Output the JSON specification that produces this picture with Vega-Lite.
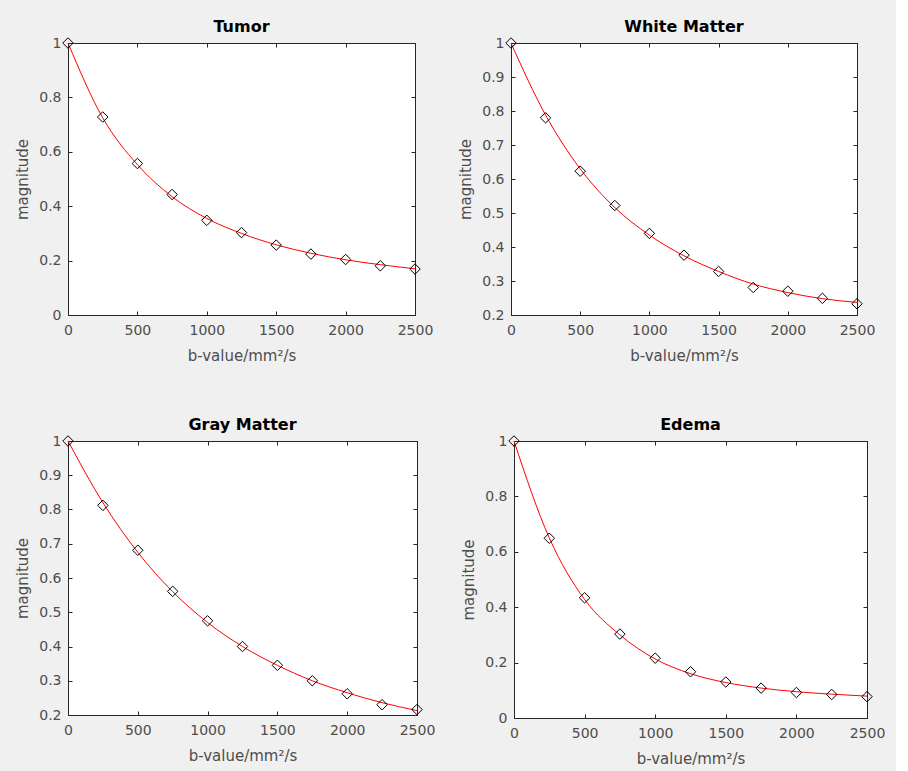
{
  "$schema": "https://vega.github.io/schema/vega-lite/v6.json",
  "background": "#f0f0f0",
  "padding": {"left": 15, "top": 18, "right": 10, "bottom": 5},
  "spacing": 52,
  "data": {"values": [
    {"tissue":"Tumor","b":0,"signal":1.0,"fit":1.0},
    {"tissue":"Tumor","b":250,"signal":0.728,"fit":0.725},
    {"tissue":"Tumor","b":500,"signal":0.557,"fit":0.553},
    {"tissue":"Tumor","b":750,"signal":0.443,"fit":0.435},
    {"tissue":"Tumor","b":1000,"signal":0.348,"fit":0.355},
    {"tissue":"Tumor","b":1250,"signal":0.303,"fit":0.300},
    {"tissue":"Tumor","b":1500,"signal":0.257,"fit":0.258},
    {"tissue":"Tumor","b":1750,"signal":0.224,"fit":0.227},
    {"tissue":"Tumor","b":2000,"signal":0.204,"fit":0.203},
    {"tissue":"Tumor","b":2250,"signal":0.181,"fit":0.185},
    {"tissue":"Tumor","b":2500,"signal":0.169,"fit":0.170},
    {"tissue":"White Matter","b":0,"signal":1.0,"fit":1.0},
    {"tissue":"White Matter","b":250,"signal":0.780,"fit":0.788},
    {"tissue":"White Matter","b":500,"signal":0.623,"fit":0.630},
    {"tissue":"White Matter","b":750,"signal":0.522,"fit":0.516},
    {"tissue":"White Matter","b":1000,"signal":0.440,"fit":0.435},
    {"tissue":"White Matter","b":1250,"signal":0.376,"fit":0.374},
    {"tissue":"White Matter","b":1500,"signal":0.328,"fit":0.328},
    {"tissue":"White Matter","b":1750,"signal":0.281,"fit":0.291},
    {"tissue":"White Matter","b":2000,"signal":0.270,"fit":0.266},
    {"tissue":"White Matter","b":2250,"signal":0.249,"fit":0.248},
    {"tissue":"White Matter","b":2500,"signal":0.233,"fit":0.237},
    {"tissue":"Gray Matter","b":0,"signal":1.0,"fit":1.0},
    {"tissue":"Gray Matter","b":250,"signal":0.812,"fit":0.820},
    {"tissue":"Gray Matter","b":500,"signal":0.681,"fit":0.675},
    {"tissue":"Gray Matter","b":750,"signal":0.561,"fit":0.560},
    {"tissue":"Gray Matter","b":1000,"signal":0.475,"fit":0.470},
    {"tissue":"Gray Matter","b":1250,"signal":0.400,"fit":0.400},
    {"tissue":"Gray Matter","b":1500,"signal":0.345,"fit":0.345},
    {"tissue":"Gray Matter","b":1750,"signal":0.300,"fit":0.300},
    {"tissue":"Gray Matter","b":2000,"signal":0.262,"fit":0.265},
    {"tissue":"Gray Matter","b":2250,"signal":0.230,"fit":0.236},
    {"tissue":"Gray Matter","b":2500,"signal":0.216,"fit":0.213},
    {"tissue":"Edema","b":0,"signal":1.0,"fit":1.0},
    {"tissue":"Edema","b":250,"signal":0.649,"fit":0.650},
    {"tissue":"Edema","b":500,"signal":0.434,"fit":0.428},
    {"tissue":"Edema","b":750,"signal":0.303,"fit":0.300},
    {"tissue":"Edema","b":1000,"signal":0.216,"fit":0.213},
    {"tissue":"Edema","b":1250,"signal":0.167,"fit":0.160},
    {"tissue":"Edema","b":1500,"signal":0.130,"fit":0.128},
    {"tissue":"Edema","b":1750,"signal":0.108,"fit":0.108},
    {"tissue":"Edema","b":2000,"signal":0.092,"fit":0.095},
    {"tissue":"Edema","b":2250,"signal":0.085,"fit":0.086},
    {"tissue":"Edema","b":2500,"signal":0.077,"fit":0.079}
  ]},
  "vconcat": [
    {"spacing": 24, "hconcat": [
      {
        "title": "Tumor",
        "width": 347, "height": 272,
        "transform": [{"filter": "datum.tissue === 'Tumor'"}],
        "resolve": {"axis": {"x": "independent", "y": "independent"}},
        "layer": [
          {"mark": {"type": "line", "color": "#ff0000", "strokeWidth": 1, "interpolate": "monotone"},
           "encoding": {
             "x": {"field": "b", "type": "quantitative", "scale": {"domain": [0, 2500], "nice": false}, "axis": {"title": "b-value/mm²/s", "values": [0,500,1000,1500,2000,2500], "format": "d"}},
             "y": {"field": "fit", "type": "quantitative", "scale": {"domain": [0, 1], "nice": false}, "axis": {"title": "magnitude", "values": [0,0.2,0.4,0.6,0.8,1], "format": "~g"}}
           }},
          {"mark": {"type": "point", "shape": "diamond", "filled": false, "stroke": "#000000", "strokeWidth": 1, "size": 110, "opacity": 1},
           "encoding": {
             "x": {"field": "b", "type": "quantitative", "axis": {"orient": "top", "title": null, "labels": false, "values": [0,500,1000,1500,2000,2500]}},
             "y": {"field": "signal", "type": "quantitative", "axis": {"orient": "right", "title": null, "labels": false, "values": [0,0.2,0.4,0.6,0.8,1]}}
           }}
        ]
      },
      {
        "title": "White Matter",
        "width": 346, "height": 272,
        "transform": [{"filter": "datum.tissue === 'White Matter'"}],
        "resolve": {"axis": {"x": "independent", "y": "independent"}},
        "layer": [
          {"mark": {"type": "line", "color": "#ff0000", "strokeWidth": 1, "interpolate": "monotone"},
           "encoding": {
             "x": {"field": "b", "type": "quantitative", "scale": {"domain": [0, 2500], "nice": false}, "axis": {"title": "b-value/mm²/s", "values": [0,500,1000,1500,2000,2500], "format": "d"}},
             "y": {"field": "fit", "type": "quantitative", "scale": {"domain": [0.2, 1], "nice": false, "zero": false}, "axis": {"title": "magnitude", "values": [0.2,0.3,0.4,0.5,0.6,0.7,0.8,0.9,1], "format": "~g"}}
           }},
          {"mark": {"type": "point", "shape": "diamond", "filled": false, "stroke": "#000000", "strokeWidth": 1, "size": 110, "opacity": 1},
           "encoding": {
             "x": {"field": "b", "type": "quantitative", "axis": {"orient": "top", "title": null, "labels": false, "values": [0,500,1000,1500,2000,2500]}},
             "y": {"field": "signal", "type": "quantitative", "axis": {"orient": "right", "title": null, "labels": false, "values": [0.2,0.3,0.4,0.5,0.6,0.7,0.8,0.9,1]}}
           }}
        ]
      }
    ]},
    {"spacing": 25, "hconcat": [
      {
        "title": "Gray Matter",
        "width": 349, "height": 274,
        "transform": [{"filter": "datum.tissue === 'Gray Matter'"}],
        "resolve": {"axis": {"x": "independent", "y": "independent"}},
        "layer": [
          {"mark": {"type": "line", "color": "#ff0000", "strokeWidth": 1, "interpolate": "monotone"},
           "encoding": {
             "x": {"field": "b", "type": "quantitative", "scale": {"domain": [0, 2500], "nice": false}, "axis": {"title": "b-value/mm²/s", "values": [0,500,1000,1500,2000,2500], "format": "d"}},
             "y": {"field": "fit", "type": "quantitative", "scale": {"domain": [0.2, 1], "nice": false, "zero": false}, "axis": {"title": "magnitude", "values": [0.2,0.3,0.4,0.5,0.6,0.7,0.8,0.9,1], "format": "~g"}}
           }},
          {"mark": {"type": "point", "shape": "diamond", "filled": false, "stroke": "#000000", "strokeWidth": 1, "size": 110, "opacity": 1},
           "encoding": {
             "x": {"field": "b", "type": "quantitative", "axis": {"orient": "top", "title": null, "labels": false, "values": [0,500,1000,1500,2000,2500]}},
             "y": {"field": "signal", "type": "quantitative", "axis": {"orient": "right", "title": null, "labels": false, "values": [0.2,0.3,0.4,0.5,0.6,0.7,0.8,0.9,1]}}
           }}
        ]
      },
      {
        "title": "Edema",
        "width": 353, "height": 277,
        "transform": [{"filter": "datum.tissue === 'Edema'"}],
        "resolve": {"axis": {"x": "independent", "y": "independent"}},
        "layer": [
          {"mark": {"type": "line", "color": "#ff0000", "strokeWidth": 1, "interpolate": "monotone"},
           "encoding": {
             "x": {"field": "b", "type": "quantitative", "scale": {"domain": [0, 2500], "nice": false}, "axis": {"title": "b-value/mm²/s", "values": [0,500,1000,1500,2000,2500], "format": "d"}},
             "y": {"field": "fit", "type": "quantitative", "scale": {"domain": [0, 1], "nice": false}, "axis": {"title": "magnitude", "values": [0,0.2,0.4,0.6,0.8,1], "format": "~g"}}
           }},
          {"mark": {"type": "point", "shape": "diamond", "filled": false, "stroke": "#000000", "strokeWidth": 1, "size": 110, "opacity": 1},
           "encoding": {
             "x": {"field": "b", "type": "quantitative", "axis": {"orient": "top", "title": null, "labels": false, "values": [0,500,1000,1500,2000,2500]}},
             "y": {"field": "signal", "type": "quantitative", "axis": {"orient": "right", "title": null, "labels": false, "values": [0,0.2,0.4,0.6,0.8,1]}}
           }}
        ]
      }
    ]}
  ],
  "config": {
    "font": "DejaVu Sans",
    "view": {"fill": "#ffffff", "stroke": "#262626", "strokeWidth": 1},
    "title": {"font": "DejaVu Sans", "fontSize": 16, "fontWeight": "bold", "color": "#000000", "offset": 1},
    "axis": {
      "grid": false,
      "domainColor": "#262626",
      "tickColor": "#262626",
      "labelColor": "#4d4d4d",
      "titleColor": "#4d4d4d",
      "labelFont": "DejaVu Sans",
      "titleFont": "DejaVu Sans",
      "labelFontSize": 14,
      "titleFontSize": 15,
      "titleFontWeight": "normal",
      "tickSize": -4,
      "labelFlush": false,
      "labelOverlap": false
    },
    "axisX": {"titlePadding": 11, "labelPadding": 12},
    "axisY": {"titlePadding": 8, "labelPadding": 11}
  }
}
